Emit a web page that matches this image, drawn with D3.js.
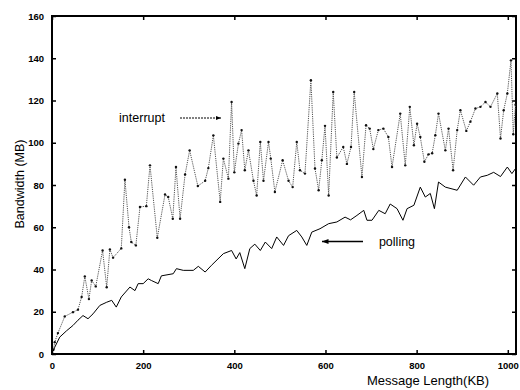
<!DOCTYPE html>
<html><head><meta charset="utf-8">
<script src="https://cdn.jsdelivr.net/npm/d3@7"></script>
<style>body{margin:0;background:#fff}svg{display:block}</style>
</head><body>
<script>
const intX = [3,6,13,28,46,57,65,72,81,87,96,111,120,127,134,152,160,169,174,184,193,207,215,231,248,255,265,272,281,292,302,320,336,343,354,369,376,387,394,400,409,416,423,431,442,449,457,464,475,480,489,506,519,528,537,544,555,568,577,585,592,599,607,617,625,639,647,656,663,680,689,697,705,716,727,738,746,764,775,785,794,801,808,817,826,834,841,848,863,870,880,889,896,909,918,929,940,951,962,977,984,991,999,1007,1012,1017];
const intY = [2,5.6,9.9,17.8,19.8,21,27,36.7,26,34.8,32,49,31.6,49.5,45.6,50,82.5,60,53,51.4,69.6,70,89.3,55,75.5,74.3,64,88.5,64,85,96.4,79.5,82,88,103.5,72,92.5,83,119.3,86,99.6,106,87,96.4,82,75,100.4,82,100.4,92.5,76.7,91.7,82,79,100.4,87,85.4,129.6,87.8,77.5,91.7,108,75,124,93,98,90,98,124,83.8,108.3,106.7,97,106,106.7,102.7,88.5,113.8,89.3,117,98.8,109,102.7,91,94.5,95,103.6,113.8,96.4,106.7,87,106,115.4,105.6,110,116.2,117,119.3,117,123.3,102,115.4,123.3,139,104,118];
const polX = [3,6,17,32,46,57,68,79,90,105,120,131,141,152,171,182,189,200,211,218,233,240,266,273,288,310,321,336,350,376,394,404,412,423,434,445,457,468,482,493,508,519,537,548,559,570,588,607,625,643,655,669,684,691,702,717,731,742,757,770,779,794,808,819,830,839,848,863,889,907,925,940,955,969,984,999,1009,1017];
const polY = [1.5,3.2,8,11,13.5,16,18.2,16.7,19,23,24.5,25.4,22.2,27,31.7,30,33.3,33.3,35.6,34.8,33.3,37,38,40.4,39.6,39.6,41.5,38.8,42,47.5,49,45,48,40.4,49.9,52,49,53,49.9,55.4,51.4,56,58.5,55.4,51.4,57.7,59.3,61.7,62.5,64.8,63.5,65.6,68,63.3,63.3,68,66.4,71,68.8,63.3,68.8,70.4,79,74.3,76,68.8,81.4,79,77.5,83.8,79.9,83.8,84.6,86,84,88.5,85.4,87.8];
const xTicks = [0,200,400,600,800,1000];
const yTicks = [0,20,40,60,80,100,120,140,160];

const W = 520, H = 390;
const m = {l:52, t:16, r:516, b:354};
const svg = d3.select("body").append("svg").attr("width",W).attr("height",H);
const x = d3.scaleLinear().domain([0,1018]).range([m.l,m.r]);
const y = d3.scaleLinear().domain([0,160]).range([m.b,m.t]);

const tickFont = "Liberation Sans, Arial, sans-serif";
const gx = svg.append("g").attr("transform",`translate(0,${m.b})`)
  .call(d3.axisBottom(x).tickValues(xTicks).tickSize(-4).tickPadding(8).tickFormat(d3.format("d")));
const gy = svg.append("g").attr("transform",`translate(${m.l},0)`)
  .call(d3.axisLeft(y).tickValues(yTicks).tickSize(-4).tickPadding(8).tickFormat(d3.format("d")));
const gt = svg.append("g").attr("transform",`translate(0,${m.t})`)
  .call(d3.axisTop(x).tickValues(xTicks).tickSize(-4).tickFormat(""));
const gr = svg.append("g").attr("transform",`translate(${m.r},0)`)
  .call(d3.axisRight(y).tickValues(yTicks).tickSize(-4).tickFormat(""));
[gx,gy,gt,gr].forEach(g=>{
  g.select(".domain").remove();
  g.selectAll(".tick line").attr("stroke","#000").attr("stroke-width",1.5);
  g.selectAll("text").attr("font-family",tickFont).attr("font-size",9.5).attr("font-weight","bold").attr("fill","#000");
});
svg.append("rect").attr("x",m.l).attr("y",m.t).attr("width",m.r-m.l).attr("height",m.b-m.t)
  .attr("fill","none").attr("stroke","#000").attr("stroke-width",2);

const intData = intX.map((d,i)=>[d,intY[i]]);
const polData = polX.map((d,i)=>[d,polY[i]]);
const line = d3.line().x(d=>x(d[0])).y(d=>y(d[1]));
svg.append("path").datum(intData).attr("d",line).attr("fill","none")
  .attr("stroke","#555").attr("stroke-width",1).attr("stroke-dasharray","1.2,1");
svg.append("g").selectAll("circle").data(intData).join("circle")
  .attr("cx",d=>x(d[0])).attr("cy",d=>y(d[1])).attr("r",1.2).attr("fill","#111");
svg.append("path").datum(polData).attr("d",line).attr("fill","none")
  .attr("stroke","#000").attr("stroke-width",1);

const lf = "Liberation Sans, Arial, sans-serif";
svg.append("text").attr("x",142).attr("y",122).attr("text-anchor","middle")
  .attr("font-family",lf).attr("font-size",12.5).text("interrupt");
svg.append("text").attr("x",397).attr("y",246).attr("text-anchor","middle")
  .attr("font-family",lf).attr("font-size",12.5).text("polling");
const defs = svg.append("defs");
defs.append("marker").attr("id","ah").attr("viewBox","0 0 10 10").attr("refX",10).attr("refY",5)
  .attr("markerWidth",6).attr("markerHeight",5).attr("orient","auto")
  .append("path").attr("d","M0,1L10,5L0,9Z").attr("fill","#000");
svg.append("line").attr("x1",180).attr("y1",118).attr("x2",221).attr("y2",118)
  .attr("stroke","#000").attr("stroke-width",1).attr("stroke-dasharray","2,1").attr("marker-end","url(#ah)");
svg.append("line").attr("x1",363).attr("y1",241.5).attr("x2",322).attr("y2",241.5)
  .attr("stroke","#000").attr("stroke-width",1.3).attr("marker-end","url(#ah)");

svg.append("text").attr("transform","translate(24,184) rotate(-90)").attr("text-anchor","middle")
  .attr("font-family",lf).attr("font-size",12.5).text("Bandwidth (MB)");
svg.append("text").attr("x",428).attr("y",385).attr("text-anchor","middle")
  .attr("font-family",lf).attr("font-size",13).text("Message Length(KB)");
</script>
</body></html>
